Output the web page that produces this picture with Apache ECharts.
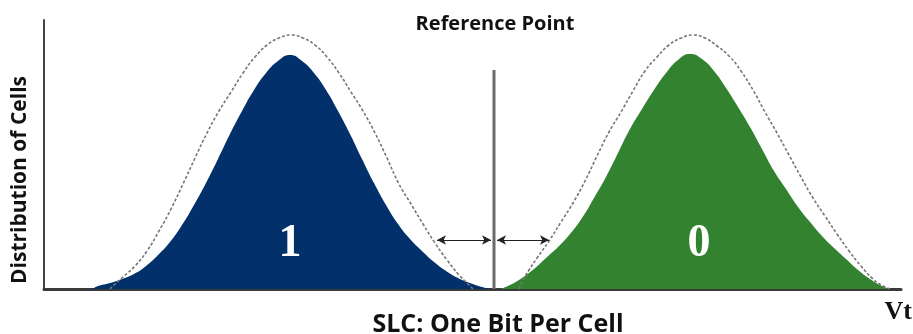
<!-- SLC threshold voltage distribution -->
<div id="main"></div>
<script src="https://cdn.jsdelivr.net/npm/echarts@6/dist/echarts.min.js"></script>

<style>
body {
	margin: 0;
	background-color: #fff;
}

#main	{
	width: 913px;
	height: 334px;
}
</style>

<script>

// values: x = Vt position, y = cell count (same units as the plot box)
var blueFill = [[92,0],[98,3],[110,6],[122,10],[134,15],[146,23],[158,34],[170,47],[182,64],[194,84],[206,106],[218,130],[230,155],[242,178],[254,199],[266,216],[278,228],[290,234],
    [302,228],[314,216],[326,199],[338,178],[350,155],[362,130],[374,106],[386,84],[398,65],[410,50],[422,38],[434,27],[446,18],[458,11],[470,6],[482,2],[492,0]];
var blueOutline = [[110,0],[115,5],[123,12],[135,23],[147,38],[159,58],[171,80],[183,105],[195,131],[207,156],[219,178],[231,197],[243,216],[255,232],[267,244],[279,251],[291,254],
    [303,251],[315,244],[327,232],[339,216],[351,197],[363,178],[375,156],[387,131],[399,105],[411,85],[423,65],[435,46],[447,29],[459,14],[467,6],[473,0]];
var greenFill = [[500,0],[510,4],[522,11],[534,20],[546,31],[558,42],[570,55],[582,71],[594,91],[606,112],[618,136],[630,160],[642,180],[654,199],[666,216],[678,229],[690,235],
    [702,230],[714,218],[726,201],[738,182],[750,162],[762,140],[774,118],[786,100],[798,82],[810,67],[822,53],[834,41],[846,30],[858,19],[870,10],[882,3],[890,0]];
var greenOutline = [[519,0],[523,9],[529,19],[537,31],[549,48],[561,67],[573,86],[585,108],[597,133],[609,157],[621,177],[633,198],[645,218],[657,232],[669,244],[681,251],[693,254],
    [705,251],[717,243],[729,233],[741,218],[753,199],[765,177],[777,156],[789,134],[801,112],[813,91],[825,73],[837,55],[849,38],[861,23],[873,10],[883,3],[890,0]];
var refPoint = [[494,0],[494,219]];
var marginLeft = [437, 491];
var marginRight = [497, 549];
var marginY = 49;
var bitLabels = [{name: '1', coord: [290, 45]}, {name: '0', coord: [699, 45]}];

var chart = echarts.init(document.getElementById('main'));

function curve(data, fill) {
    var s = {
        type: 'line',
        data: data,
        smooth: 0.5,
        symbol: 'none',
        silent: true,
        animation: false
    };
    if (fill) {
        s.lineStyle = {width: 0};
        s.areaStyle = {color: fill, opacity: 1};
    } else {
        s.lineStyle = {color: '#777', width: 1.6, type: [3, 2]};
    }
    return s;
}

var blueS = curve(blueFill, '#01306a');
blueS.markPoint = {
    symbol: 'circle',
    symbolSize: 1,
    itemStyle: {color: 'rgba(0,0,0,0)'},
    label: {
        show: true,
        position: 'inside',
        formatter: '{b}',
        color: '#fff',
        fontSize: 46,
        fontWeight: 'bold',
        fontFamily: 'Liberation Serif'
    },
    data: bitLabels
};

option = {
    backgroundColor: '#fff',
    grid: {left: 44, right: 12, top: 20, bottom: 45},
    xAxis: {
        type: 'value',
        min: 44,
        max: 901,
        axisLine: {show: true, lineStyle: {color: '#3a3a3a', width: 3}},
        axisTick: {show: false},
        axisLabel: {show: false},
        splitLine: {show: false}
    },
    yAxis: {
        type: 'value',
        min: 0,
        max: 269,
        axisLine: {show: true, lineStyle: {color: '#444', width: 2}},
        axisTick: {show: false},
        axisLabel: {show: false},
        splitLine: {show: false}
    },
    graphic: [
        {type: 'text', x: 495, y: 24, style: {text: 'Reference Point', fill: '#111', font: 'bold 20px "Open Sans"', textAlign: 'center', textVerticalAlign: 'middle'}},
        {type: 'text', x: 498, y: 325, style: {text: 'SLC: One Bit Per Cell', fill: '#111', font: 'bold 25px "Open Sans"', textAlign: 'center', textVerticalAlign: 'middle'}},
        {type: 'text', x: 912, y: 312, style: {text: 'Vt', fill: '#111', font: 'bold 26px "Liberation Serif"', textAlign: 'right', textVerticalAlign: 'middle'}},
        {type: 'text', x: 20, y: 180, rotation: Math.PI / 2, style: {text: 'Distribution of Cells', fill: '#111', font: 'bold 21px "Open Sans"', textAlign: 'center', textVerticalAlign: 'middle'}}
    ],
    series: [
        curve(blueOutline),
        curve(greenOutline),
        blueS,
        curve(greenFill, '#33822f'),
        {
            type: 'line',
            data: refPoint,
            symbol: 'none',
            silent: true,
            animation: false,
            lineStyle: {color: '#6a6a6a', width: 3},
            markLine: {
                silent: true,
                animation: false,
                symbol: ['arrow', 'arrow'],
                symbolSize: [7, 9],
                label: {show: false},
                lineStyle: {color: '#222', width: 1, type: 'solid'},
                data: [
                    [{coord: [marginLeft[0], marginY]}, {coord: [marginLeft[1], marginY]}],
                    [{coord: [marginRight[0], marginY]}, {coord: [marginRight[1], marginY]}]
                ]
            }
        }
    ]
};

chart.setOption(option);

</script>
